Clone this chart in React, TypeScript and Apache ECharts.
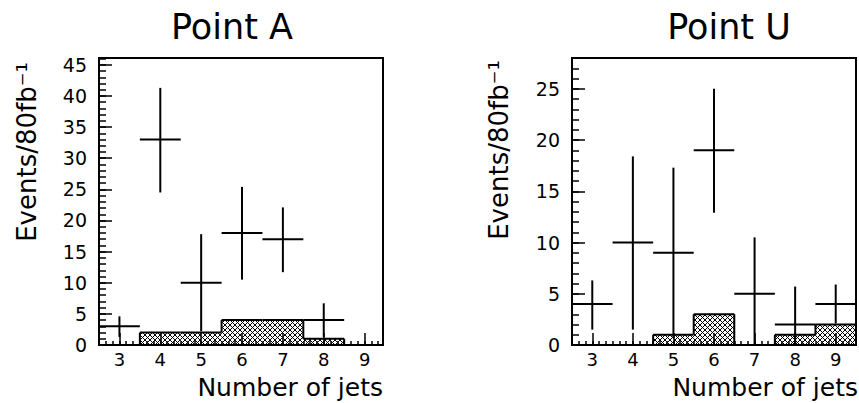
import React, { useEffect, useRef } from "react";
import * as echarts from "echarts";

// ---- data ----
const jets = [3, 4, 5, 6, 7, 8, 9];
const bgA = [0, 2, 2, 4, 4, 1, 0];
const bgU = [0, 0, 1, 3, 0, 1, 2];

const sigJetsA = [3, 4, 5, 6, 7, 8];
const sigA = [3, 33, 10, 18, 17, 4];
const sigLoA = [1.3, 24.5, 2.2, 10.5, 11.7, 1.3];
const sigHiA = [4.6, 41.3, 17.8, 25.4, 22.1, 6.7];

const sigJetsU = [3, 4, 5, 6, 7, 8, 9];
const sigU = [4, 10, 9, 19, 5, 2, 4];
const sigLoU = [1.5, 1.5, 0.7, 12.9, 0, 0, 2.1];
const sigHiU = [6.3, 18.4, 17.3, 25.0, 10.5, 5.7, 5.9];

const titles = ["Point A", "Point U"];
const yTitle = "Events/80fb\u207B\u00B9";
const xTitle = "Number of jets";

const FONT = '"DejaVu Sans", sans-serif';

function makeHatch() {
  const s = 5;
  const c = document.createElement("canvas");
  c.width = s;
  c.height = s;
  const g = c.getContext("2d")!;
  g.fillStyle = "#fff";
  g.fillRect(0, 0, s, s);
  g.strokeStyle = "#000";
  g.lineWidth = 1;
  g.beginPath();
  for (const k of [-s, 0, s]) {
    g.moveTo(k, 0);
    g.lineTo(k + s, s);
    g.moveTo(k + s, 0);
    g.lineTo(k, s);
  }
  g.stroke();
  return c;
}

export default function App() {
  const ref = useRef<HTMLDivElement>(null);
  useEffect(() => {
    if (!ref.current) return;
    const chart = echarts.init(ref.current, null, { renderer: "svg" });
    const hatch = { image: makeHatch(), repeat: "repeat", imageWidth: 5, imageHeight: 5 };

    const grids = [
      { left: 99, top: 58, width: 284, height: 287 },
      { left: 572, top: 58, width: 286, height: 287 },
    ];
    const xMax = [9.45, 9.5];
    const yMax = [46.1, 28];

    const xAxis: any[] = [];
    const yAxis: any[] = [];
    [0, 1].forEach((g) => {
      xAxis.push({
        type: "value", gridIndex: g, position: "bottom", min: 2.5, max: xMax[g], splitNumber: 5, z: 5,
        axisLine: { show: true, lineStyle: { color: "#000", width: 2 } },
        axisTick: { show: true, inside: true, length: 12, lineStyle: { color: "#000", width: 1.5 } },
        axisLabel: {
          show: true, margin: 5, color: "#000", fontSize: 18, fontFamily: FONT,
          formatter: (v: number) => (Number.isInteger(v) ? String(v) : ""),
        },
        splitLine: { show: false },
      });
      xAxis.push({
        type: "value", gridIndex: g, position: "bottom", min: 2.5, max: xMax[g], interval: 1 / 6, z: 5,
        axisLine: { show: false },
        axisTick: { show: true, inside: true, length: 4, lineStyle: { color: "#000", width: 1.5 } },
        axisLabel: { show: false },
        splitLine: { show: false },
      });
      yAxis.push({
        type: "value", gridIndex: g, position: "left", min: 0, max: yMax[g], interval: 5, z: 5,
        axisLine: { show: true, lineStyle: { color: "#000", width: 2 } },
        axisTick: { show: true, inside: true, length: 13, lineStyle: { color: "#000", width: 1.5 } },
        axisLabel: {
          show: true, margin: 12, color: "#000", fontSize: 19, fontFamily: FONT, showMaxLabel: false,
          formatter: (v: number) => (v % 5 === 0 ? String(v) : ""),
        },
        splitLine: { show: false },
      });
      yAxis.push({
        type: "value", gridIndex: g, position: "left", min: 0, max: yMax[g], interval: 1, z: 5,
        axisLine: { show: false },
        axisTick: { show: true, inside: true, length: 7, lineStyle: { color: "#000", width: 1.5 } },
        axisLabel: { show: false },
        splitLine: { show: false },
      });
    });

    const histSeries = (g: number, bg: number[]) => ({
      type: "custom",
      xAxisIndex: g * 2,
      yAxisIndex: g * 2,
      clip: true,
      z: 2,
      data: jets.map((x, i) => [x, bg[i], i > 0 ? bg[i - 1] : 0, i === jets.length - 1 ? 1 : 0]),
      renderItem: (_p: any, api: any) => {
        const x = api.value(0), h = api.value(1), prev = api.value(2), last = api.value(3);
        const tl = api.coord([x - 0.5, h]);
        const br = api.coord([x + 0.5, 0]);
        const pl = api.coord([x - 0.5, prev]);
        const ls = { stroke: "#000", lineWidth: 2 };
        const children: any[] = [];
        if (h > 0) {
          children.push({
            type: "rect",
            shape: { x: tl[0], y: tl[1], width: br[0] - tl[0], height: br[1] - tl[1] },
            style: { fill: hatch },
          });
          children.push({ type: "line", shape: { x1: tl[0], y1: tl[1], x2: br[0], y2: tl[1] }, style: ls });
        }
        if (h !== prev) {
          children.push({ type: "line", shape: { x1: tl[0], y1: pl[1], x2: tl[0], y2: tl[1] }, style: ls });
        }
        if (last && h > 0) {
          children.push({ type: "line", shape: { x1: br[0], y1: tl[1], x2: br[0], y2: br[1] }, style: ls });
        }
        return { type: "group", children };
      },
    });

    const errSeries = (g: number, xs: number[], v: number[], lo: number[], hi: number[]) => ({
      type: "custom",
      xAxisIndex: g * 2,
      yAxisIndex: g * 2,
      clip: true,
      z: 3,
      data: xs.map((x, i) => [x, v[i], lo[i], hi[i]]),
      renderItem: (_p: any, api: any) => {
        const x = api.value(0), y = api.value(1), l = api.value(2), h = api.value(3);
        const a = api.coord([x - 0.5, y]);
        const b = api.coord([x + 0.5, y]);
        const lp = api.coord([x, l]);
        const hp = api.coord([x, h]);
        const ls = { stroke: "#000", lineWidth: 2 };
        return {
          type: "group",
          children: [
            { type: "line", shape: { x1: a[0], y1: a[1], x2: b[0], y2: b[1] }, style: ls },
            { type: "line", shape: { x1: lp[0], y1: lp[1], x2: hp[0], y2: hp[1] }, style: ls },
          ],
        };
      },
    });

    const txt = (text: string, x: number, y: number, size: number, align: string, rot = 0) => ({
      type: "text",
      x,
      y,
      rotation: rot,
      z: 10,
      style: {
        text,
        font: `${size}px ${FONT}`,
        fill: "#000",
        textAlign: align,
        textVerticalAlign: "middle",
      },
    });

    chart.setOption({
      animation: false,
      backgroundColor: "#fff",
      grid: grids.map((g) => ({
        ...g,
        show: true,
        borderColor: "#000",
        borderWidth: 2,
        backgroundColor: "transparent",
        containLabel: false,
      })),
      xAxis,
      yAxis,
      series: [
        histSeries(0, bgA),
        errSeries(0, sigJetsA, sigA, sigLoA, sigHiA),
        histSeries(1, bgU),
        errSeries(1, sigJetsU, sigU, sigLoU, sigHiU),
      ],
      graphic: [
        txt(titles[0], 232, 27, 35, "center"),
        txt(titles[1], 729, 27, 35, "center"),
        txt(yTitle, 27, 152, 26, "center", Math.PI / 2),
        txt(yTitle, 499, 150, 26, "center", Math.PI / 2),
        txt(xTitle, 383, 387, 25, "right"),
        txt(xTitle, 858, 387, 25, "right"),
      ],
    });
    return () => chart.dispose();
  }, []);
  return (
    <div
      ref={ref}
      style={{ position: "fixed", left: 0, top: 0, width: 859, height: 403, background: "#fff" }}
    />
  );
}
